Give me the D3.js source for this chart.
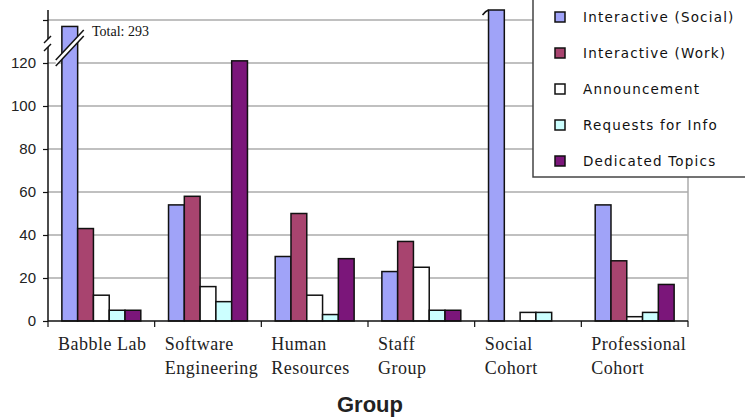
<!DOCTYPE html>
<html>
<head>
<meta charset="utf-8">
<script src="https://cdn.jsdelivr.net/npm/d3@7"></script>
<style>
  body { margin: 0; background: #fff; }
  svg { display: block; }
</style>
</head>
<body>
<div id="chart"></div>
<script>
// data
const groups = ['Babble Lab', 'Software Engineering', 'Human Resources', 'Staff Group', 'Social Cohort', 'Professional Cohort'];
const groupLines = [['Babble Lab'], ['Software', 'Engineering'], ['Human', 'Resources'], ['Staff', 'Group'], ['Social', 'Cohort'], ['Professional', 'Cohort']];
const seriesNames = ['Interactive (Social)', 'Interactive (Work)', 'Announcement', 'Requests for Info', 'Dedicated Topics'];
const social = [293, 54, 30, 23, 200, 54];
const work = [43, 58, 50, 37, 0, 28];
const announcement = [12, 16, 12, 25, 4, 2];
const requests = [5, 9, 3, 5, 4, 4];
const dedicated = [5, 121, 29, 5, 0, 17];
const yTicks = [0, 20, 40, 60, 80, 100, 120, 140];
const yLabels = ['0', '20', '40', '60', '80', '100', '120', ''];
const totalNote = 'Total: 293';

const colors = ['#a0a3f8', '#a8446f', '#ffffff', '#ccffff', '#7b167a'];
const seriesValues = [social, work, announcement, requests, dedicated];

const width = 745;
const height = 418;
const plotL = 48, plotR = 688, plotB = 321, plotT = 10;

const svg = d3.select('#chart').append('svg')
  .attr('width', width)
  .attr('height', height);

const x0 = d3.scaleBand().domain(groups).range([plotL, plotR]);
const x1 = d3.scaleBand().domain(seriesNames)
  .range([x0.bandwidth() * 0.13, x0.bandwidth() * 0.87]);
const y = d3.scaleLinear().domain([0, 140]).range([plotB, plotB - 140 * 2.15]);
const yMax = y.invert(plotT);

// gridlines
svg.append('g')
  .selectAll('line')
  .data(yTicks.slice(1))
  .join('line')
  .attr('x1', plotL).attr('x2', plotR)
  .attr('y1', d => y(d)).attr('y2', d => y(d))
  .attr('stroke', '#ababab')
  .attr('stroke-width', 1.5);

// right plot border
svg.append('line')
  .attr('x1', plotR).attr('x2', plotR)
  .attr('y1', plotT).attr('y2', plotB)
  .attr('stroke', '#ababab')
  .attr('stroke-width', 1.5);

// bars
const barG = svg.append('g');
groups.forEach((g, gi) => {
  seriesNames.forEach((s, si) => {
    const v = seriesValues[si][gi];
    if (v <= 0) return;
    let shown = v;
    if (g === 'Babble Lab' && v > 140) shown = 137;
    else if (v > yMax) shown = yMax;
    barG.append('rect')
      .attr('x', x0(g) + x1(s))
      .attr('y', y(shown))
      .attr('width', x1.bandwidth())
      .attr('height', y(0) - y(shown))
      .attr('fill', colors[si])
      .attr('stroke', '#111')
      .attr('stroke-width', 1.5);
  });
});

// break across the Babble Lab bar
const bx = x0('Babble Lab') + x1(seriesNames[0]) + x1.bandwidth() / 2;
const by = 45;
const brk = svg.append('g');
brk.append('path')
  .attr('d', `M${bx - 14},${by + 15} L${bx + 14},${by - 15} L${bx + 14},${by - 9} L${bx - 14},${by + 21} Z`)
  .attr('fill', '#fff');
[0, 6].forEach(o => {
  brk.append('line')
    .attr('x1', bx - 14).attr('y1', by + 15 + o)
    .attr('x2', bx + 14).attr('y2', by - 15 + o)
    .attr('stroke', '#111').attr('stroke-width', 1.5);
});
svg.append('text')
  .attr('x', 92).attr('y', 36)
  .attr('font-family', 'Liberation Serif, serif')
  .attr('font-size', 14)
  .attr('fill', '#111')
  .text(totalNote);

// little break mark on top of the Social Cohort bar
const sx = x0('Social Cohort') + x1(seriesNames[0]);
svg.append('path')
  .attr('d', `M${sx - 6},${plotT + 5} Q${sx - 3},${plotT + 1} ${sx},${plotT}`)
  .attr('fill', 'none')
  .attr('stroke', '#111')
  .attr('stroke-width', 1.5);

// y axis
const yAxis = d3.axisLeft(y)
  .tickValues(yTicks)
  .tickSize(5)
  .tickFormat((d, i) => yLabels[i]);
const yg = svg.append('g')
  .attr('transform', `translate(${plotL},0)`)
  .call(yAxis);
yg.select('.domain').remove();
yg.selectAll('.tick line').attr('stroke', '#111').attr('stroke-width', 1.2);
yg.selectAll('.tick text')
  .attr('x', -12)
  .attr('font-family', 'Liberation Sans, Arial, sans-serif')
  .attr('font-size', 15)
  .attr('fill', '#222');

// axis line with break
svg.append('line')
  .attr('x1', plotL).attr('x2', plotL).attr('y1', plotT).attr('y2', 39)
  .attr('stroke', '#111').attr('stroke-width', 1.5);
svg.append('line')
  .attr('x1', plotL).attr('x2', plotL).attr('y1', 47).attr('y2', plotB)
  .attr('stroke', '#111').attr('stroke-width', 1.5);
[[44, 43, 51, 36], [44, 51, 51, 44]].forEach(p => {
  svg.append('line')
    .attr('x1', p[0]).attr('y1', p[1]).attr('x2', p[2]).attr('y2', p[3])
    .attr('stroke', '#111').attr('stroke-width', 1.5);
});

// x axis
svg.append('line')
  .attr('x1', plotL).attr('x2', plotR)
  .attr('y1', plotB).attr('y2', plotB)
  .attr('stroke', '#111').attr('stroke-width', 1.5);
const bounds = groups.map(g => x0(g)).concat([plotR]);
svg.append('g')
  .selectAll('line')
  .data(bounds)
  .join('line')
  .attr('x1', d => d).attr('x2', d => d)
  .attr('y1', plotB).attr('y2', plotB + 6)
  .attr('stroke', '#111').attr('stroke-width', 1.2);

const lab = svg.append('g')
  .attr('font-family', 'Liberation Serif, Times New Roman, serif')
  .attr('font-size', 18)
  .attr('letter-spacing', 0.5)
  .attr('fill', '#222');
groups.forEach((g, gi) => {
  const t = lab.append('text')
    .attr('x', x0(g) + 10)
    .attr('y', 350);
  groupLines[gi].forEach((line, li) => {
    t.append('tspan')
      .attr('x', x0(g) + 10)
      .attr('y', 350 + li * 24)
      .text(line);
  });
});

svg.append('text')
  .attr('x', 370).attr('y', 412)
  .attr('text-anchor', 'middle')
  .attr('font-family', 'Liberation Sans, Arial, sans-serif')
  .attr('font-weight', 'bold')
  .attr('font-size', 22)
  .attr('fill', '#222')
  .text('Group');

// legend
const legend = svg.append('g');
legend.append('rect')
  .attr('x', 533).attr('y', -5)
  .attr('width', 230).attr('height', 182)
  .attr('fill', '#fff')
  .attr('stroke', '#444')
  .attr('stroke-width', 1.5);
const items = legend.selectAll('g.item')
  .data(seriesNames)
  .join('g')
  .attr('class', 'item')
  .attr('transform', (d, i) => `translate(0,${17 + i * 36})`);
items.append('rect')
  .attr('x', 555).attr('y', -5)
  .attr('width', 10).attr('height', 10)
  .attr('fill', (d, i) => colors[i])
  .attr('stroke', '#111')
  .attr('stroke-width', 1.5);
items.append('text')
  .attr('x', 583).attr('y', 0)
  .attr('dy', '0.36em')
  .attr('font-family', 'DejaVu Sans, sans-serif')
  .attr('font-size', 13.5)
  .attr('letter-spacing', 1.2)
  .attr('fill', '#111')
  .text(d => d);
</script>
</body>
</html>
